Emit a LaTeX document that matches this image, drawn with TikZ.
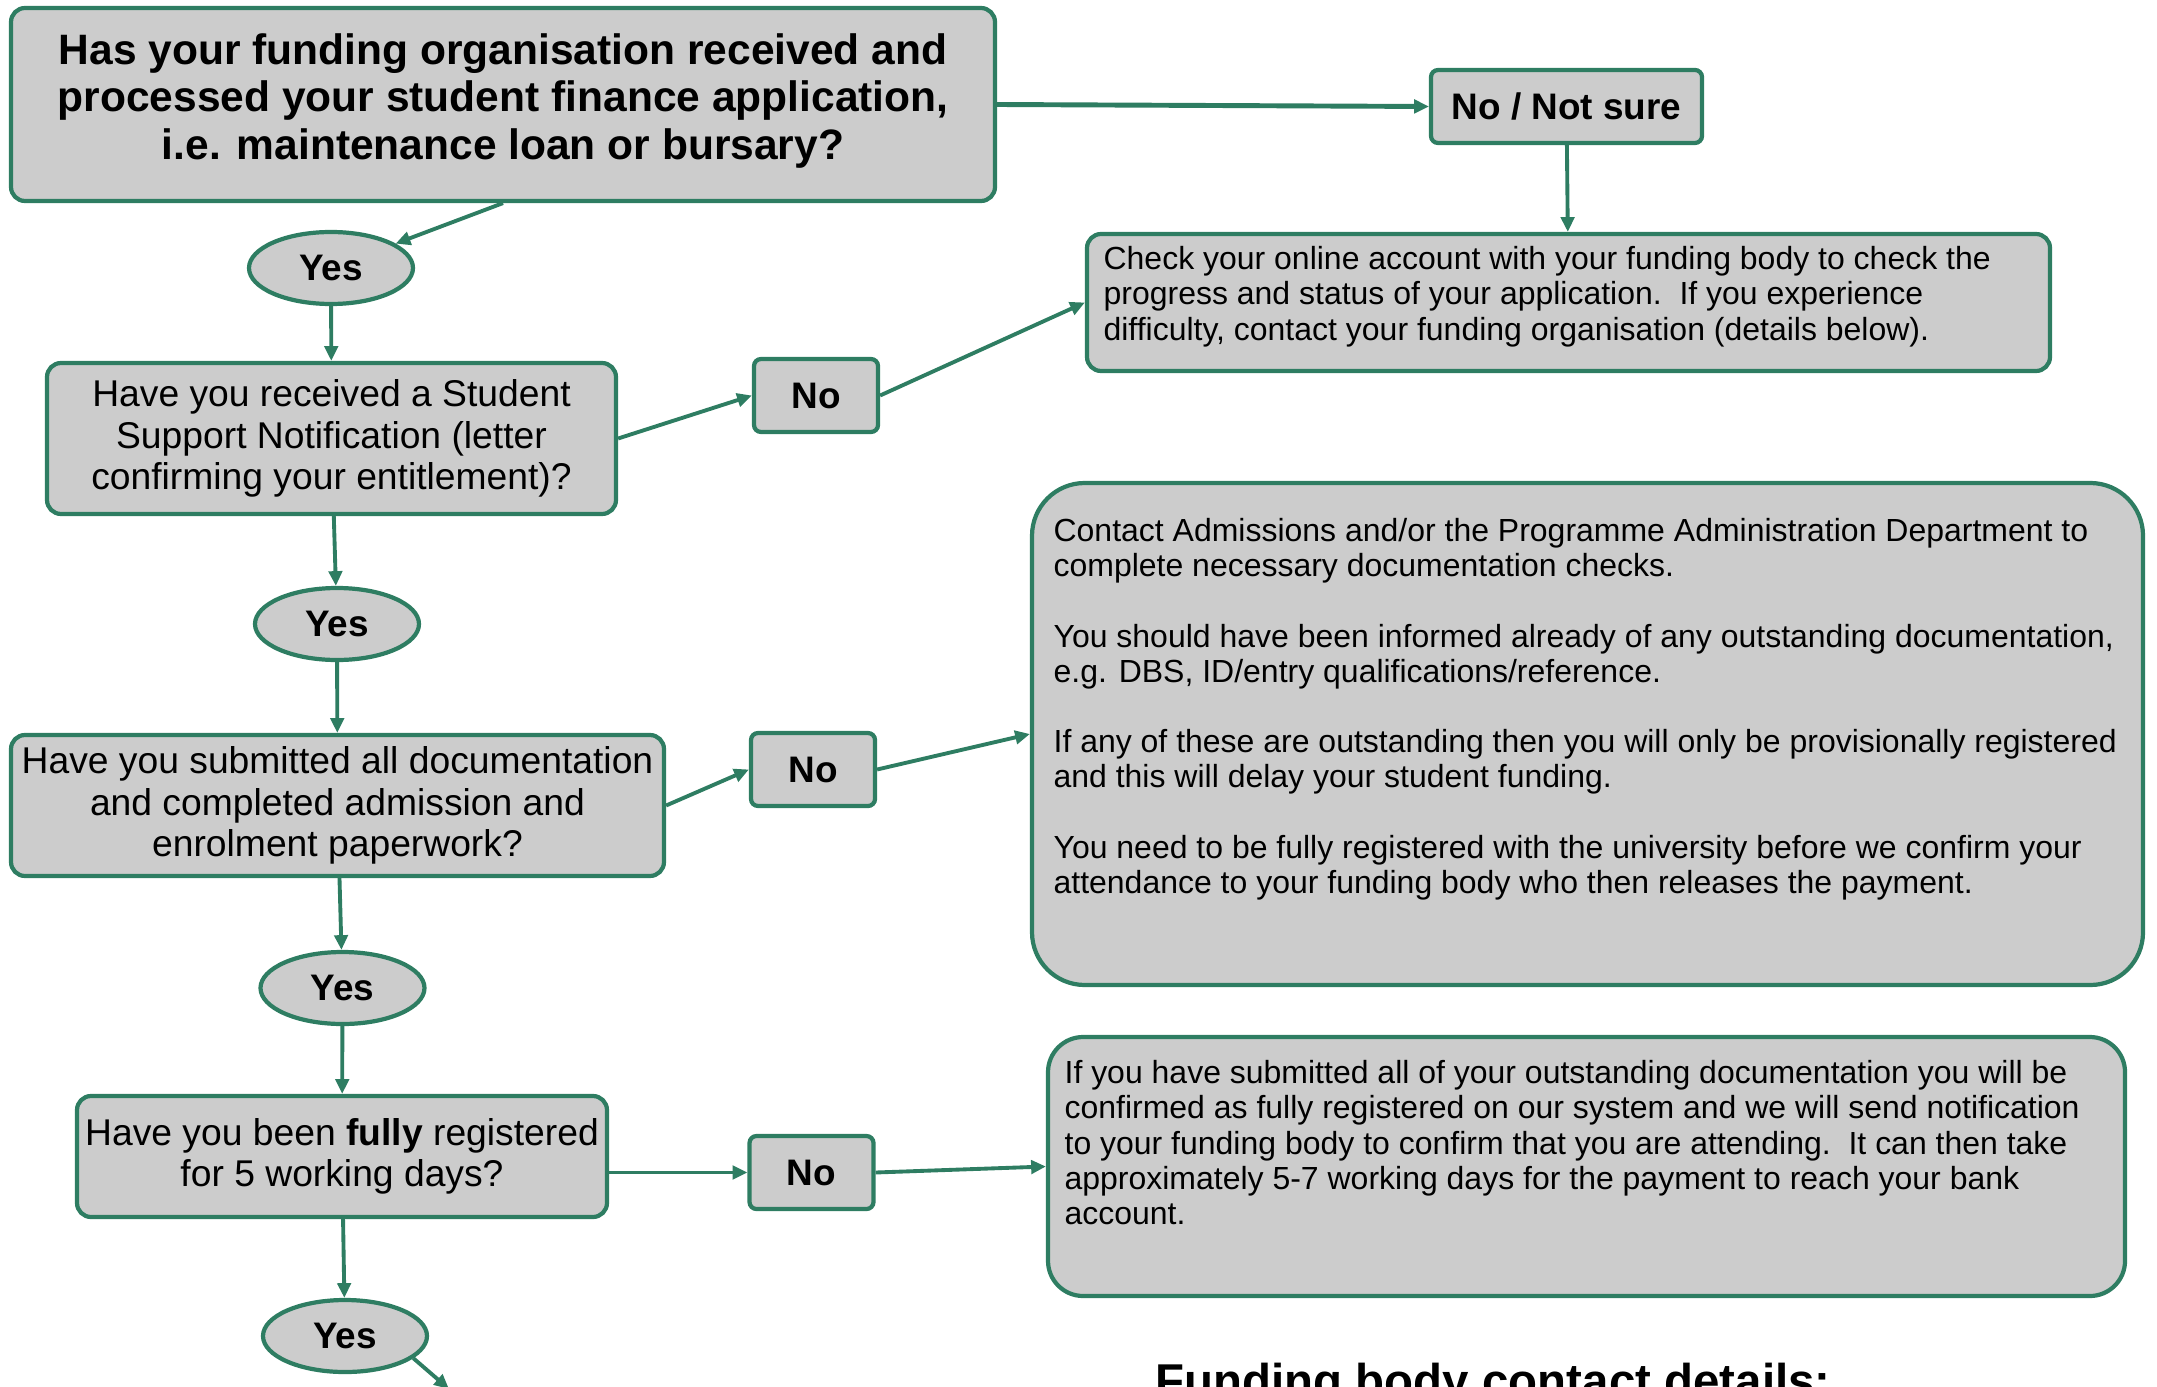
\documentclass[tikz,border=0pt]{standalone}
\usepackage{fontspec}
\setmainfont{Liberation Sans}
\usetikzlibrary{arrows.meta,shapes.geometric,calc}
\definecolor{flowgreen}{RGB}{46,125,98}
\definecolor{boxgrey}{RGB}{204,204,204}
\tikzstyle{question}=[rectangle,rounded corners=4pt,draw=flowgreen,fill=boxgrey,line width=1.2pt,align=center,inner sep=0pt,font=\fontsize{10.6}{11.8}\selectfont]
\tikzstyle{answer}=[ellipse,draw=flowgreen,fill=boxgrey,line width=1.2pt,minimum width=1.64cm,minimum height=0.72cm,inner sep=0pt,font=\fontsize{10.5}{12}\selectfont\bfseries]
\tikzstyle{nobox}=[rectangle,rounded corners=2pt,draw=flowgreen,fill=boxgrey,line width=1.2pt,minimum width=1.24cm,minimum height=0.73cm,inner sep=0pt,font=\fontsize{10.5}{12}\selectfont\bfseries]
\tikzstyle{infobox}=[rectangle,draw=flowgreen,fill=boxgrey,line width=1.2pt,inner sep=0pt]
\tikzstyle{infotext}=[anchor=north west,align=left,inner sep=0pt,font=\fontsize{9.1}{10}\selectfont]
\tikzstyle{edge}=[draw=flowgreen,line width=1.1pt,-{Triangle[length=4.2pt,width=3.8pt]}]

\begin{document}
\begin{tikzpicture}
    \useasboundingbox (0,0) rectangle (21.57,-13.86);
    \clip (0,0) rectangle (21.57,-13.86);

    % The questions down the left side
    \node[question,minimum width=9.84cm,minimum height=1.93cm,text depth=4.5pt,font=\fontsize{12.1}{13.4}\selectfont\bfseries] (title) at (5.03,-1.045)
        {Has your funding organisation received and\\processed your student finance application,\\i.e. maintenance loan or bursary?};
    \node[question,minimum width=5.69cm,minimum height=1.51cm] (qA) at (3.315,-4.385)
        {Have you received a Student\\Support Notification (letter\\confirming your entitlement)?};
    \node[question,minimum width=6.53cm,minimum height=1.41cm] (qB) at (3.375,-8.055)
        {Have you submitted all documentation\\and completed admission and\\enrolment paperwork?};
    \node[question,minimum width=5.3cm,minimum height=1.21cm] (qC) at (3.42,-11.565)
        {Have you been \textbf{fully} registered\\for 5 working days?};

    % Yes and No answers
    \foreach \pos/ \name in {{(3.31,-2.68)/yesA},{(3.37,-6.24)/yesB},{(3.425,-9.88)/yesC},{(3.45,-13.36)/yesD}}
        \node[answer] (\name) at \pos {Yes};
    \foreach \pos/ \name in {{(8.16,-3.955)/noA},{(8.13,-7.695)/noB},{(8.115,-11.725)/noC}}
        \node[nobox] (\name) at \pos {No};
    \node[nobox,minimum width=2.71cm] (notsure) at (15.665,-1.065) {No / Not sure};

    % Boxes with the advice
    \node[infobox,rounded corners=4pt,minimum width=9.63cm,minimum height=1.37cm] (check) at (15.685,-3.025) {};
    \node[infotext] (checktext) at ($(check.north west)+(0.18,-0.14)$)
        {Check your online account with your funding body to check the\\
         progress and status of your application.\ \ If you experience\\
         difficulty, contact your funding organisation (details below).};

    \node[infobox,rounded corners=15pt,minimum width=11.11cm,minimum height=5.02cm] (admin) at (15.875,-7.34) {};
    \node[infotext] (admintext) at ($(admin.north west)+(0.23,-0.37)$)
        {Contact Admissions and/or the Programme Administration Department to\\
         complete necessary documentation checks.\\[10pt]
         You should have been informed already of any outstanding documentation,\\
         e.g. DBS, ID/entry qualifications/reference.\\[10pt]
         If any of these are outstanding then you will only be provisionally registered\\
         and this will delay your student funding.\\[10pt]
         You need to be fully registered with the university before we confirm your\\
         attendance to your funding body who then releases the payment.};

    \node[infobox,rounded corners=10pt,minimum width=10.77cm,minimum height=2.59cm] (payment) at (15.865,-11.665) {};
    \node[infotext] (paymenttext) at ($(payment.north west)+(0.18,-0.25)$)
        {If you have submitted all of your outstanding documentation you will be\\
         confirmed as fully registered on our system and we will send notification\\
         to your funding body to confirm that you are attending.\ \ It can then take\\
         approximately 5-7 working days for the payment to reach your bank\\
         account.};

    \node[anchor=base west,inner sep=0pt,font=\fontsize{13.5}{15}\selectfont\bfseries] (contact) at (11.55,-13.97) {Funding body contact details:};
    \coordinate (offpage) at (4.49,-13.89);

    % Connect the boxes with arrows
    \path[edge,line width=1.4pt] (title.east) -- (notsure.west);
    \foreach \source/ \dest in {title.south/yesA, notsure/check, yesA/qA, qA.east/noA.west,
        noA.east/check.west, qA/yesB, yesB/qB, qB.east/noB.west, noB.east/admin.west, qB/yesC, yesC/qC,
        qC.east |- noC.west/noC.west, noC.east/payment.west, qC/yesD, yesD.-18/offpage}
        \path[edge] (\source) -- (\dest);
\end{tikzpicture}
\end{document}
